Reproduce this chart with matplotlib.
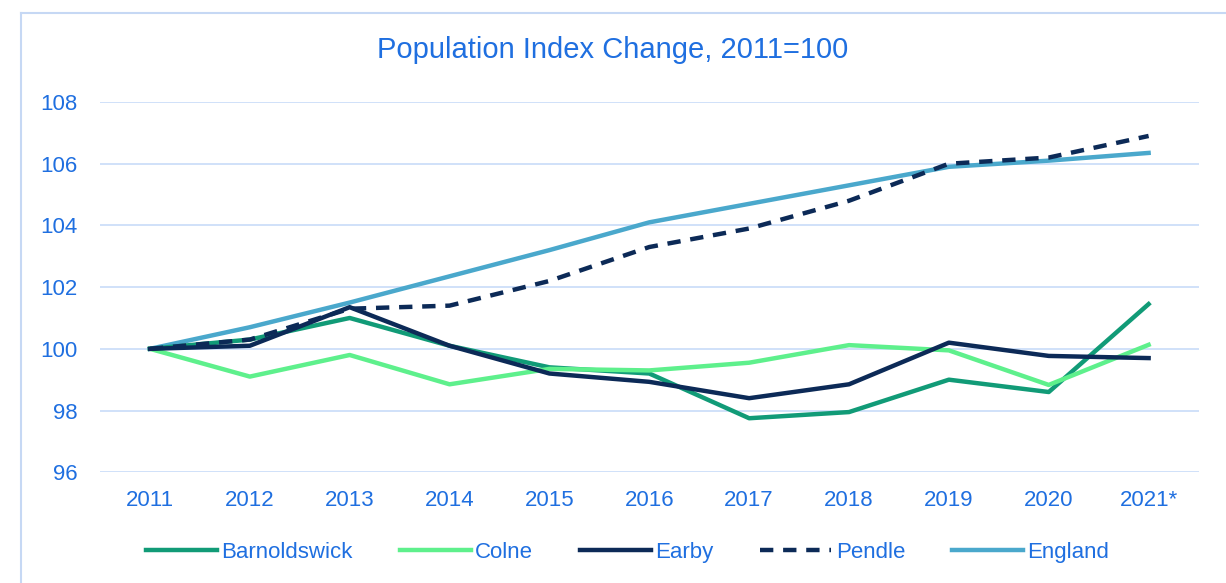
import matplotlib.pyplot as plt
from matplotlib.lines import Line2D

plt.rcParams["font.family"] = ["Liberation Sans", "DejaVu Sans"]

years = ["2011", "2012", "2013", "2014", "2015", "2016", "2017", "2018", "2019", "2020", "2021*"]
barnoldswick = [100, 100.3, 101.0, 100.1, 99.4, 99.2, 97.75, 97.95, 99.0, 98.6, 101.45]
colne = [100, 99.1, 99.8, 98.85, 99.35, 99.3, 99.55, 100.12, 99.95, 98.83, 100.13]
earby = [100, 100.1, 101.35, 100.1, 99.2, 98.93, 98.4, 98.85, 100.2, 99.77, 99.7]
pendle = [100, 100.3, 101.3, 101.4, 102.2, 103.3, 103.9, 104.8, 106.0, 106.2, 106.9]
england = [100, 100.7, 101.5, 102.35, 103.2, 104.1, 104.7, 105.3, 105.9, 106.1, 106.35]

text_col = "#1f6fe0"

fig = plt.figure(figsize=(12.26, 5.83), dpi=100)
ax = fig.add_axes([0.0816, 0.19, 0.896, 0.635])

x = range(len(years))
lw = 3.2
ax.plot(x, barnoldswick, color="#119b77", lw=lw, label="Barnoldswick", zorder=3)
ax.plot(x, colne, color="#5ef08c", lw=lw, label="Colne", zorder=3)
ax.plot(x, earby, color="#0c2a57", lw=lw, label="Earby", zorder=4)
ax.plot(x, pendle, color="#0c2a57", lw=lw, ls=(0, (3, 2.2)), label="Pendle", zorder=4)
ax.plot(x, england, color="#4aa8cc", lw=lw, label="England", zorder=2)

ax.set_xlim(-0.5, len(years) - 0.5)
ax.set_ylim(96, 108)
ax.set_yticks(range(96, 109, 2))
ax.set_xticks(list(x))
ax.set_xticklabels(years)
ax.grid(axis="y", color="#c8dcf8", lw=1.2)
ax.set_axisbelow(True)
for s in ax.spines.values():
    s.set_visible(False)
ax.tick_params(length=0, labelsize=16, labelcolor=text_col)
ax.tick_params(axis="x", pad=13)
ax.tick_params(axis="y", pad=16)

fig.text(0.5, 0.915, "Population Index Change, 2011=100", ha="center", va="center",
         fontsize=21, color=text_col)

leg = fig.legend(loc="center", bbox_to_anchor=(0.512, 0.053), ncol=5, frameon=False,
                 fontsize=16, handlelength=3.2, handletextpad=0.2, columnspacing=2.1)
for t in leg.get_texts():
    t.set_color(text_col)

# chart frame (left and top edges only)
fig.add_artist(Line2D([21 / 1226, 21 / 1226], [0, 1 - 13 / 583], transform=fig.transFigure,
                      color="#c6d8f4", lw=1.5))
fig.add_artist(Line2D([21 / 1226, 1], [1 - 13 / 583, 1 - 13 / 583], transform=fig.transFigure,
                      color="#c6d8f4", lw=1.5))

fig.savefig("out.png", dpi=100)
